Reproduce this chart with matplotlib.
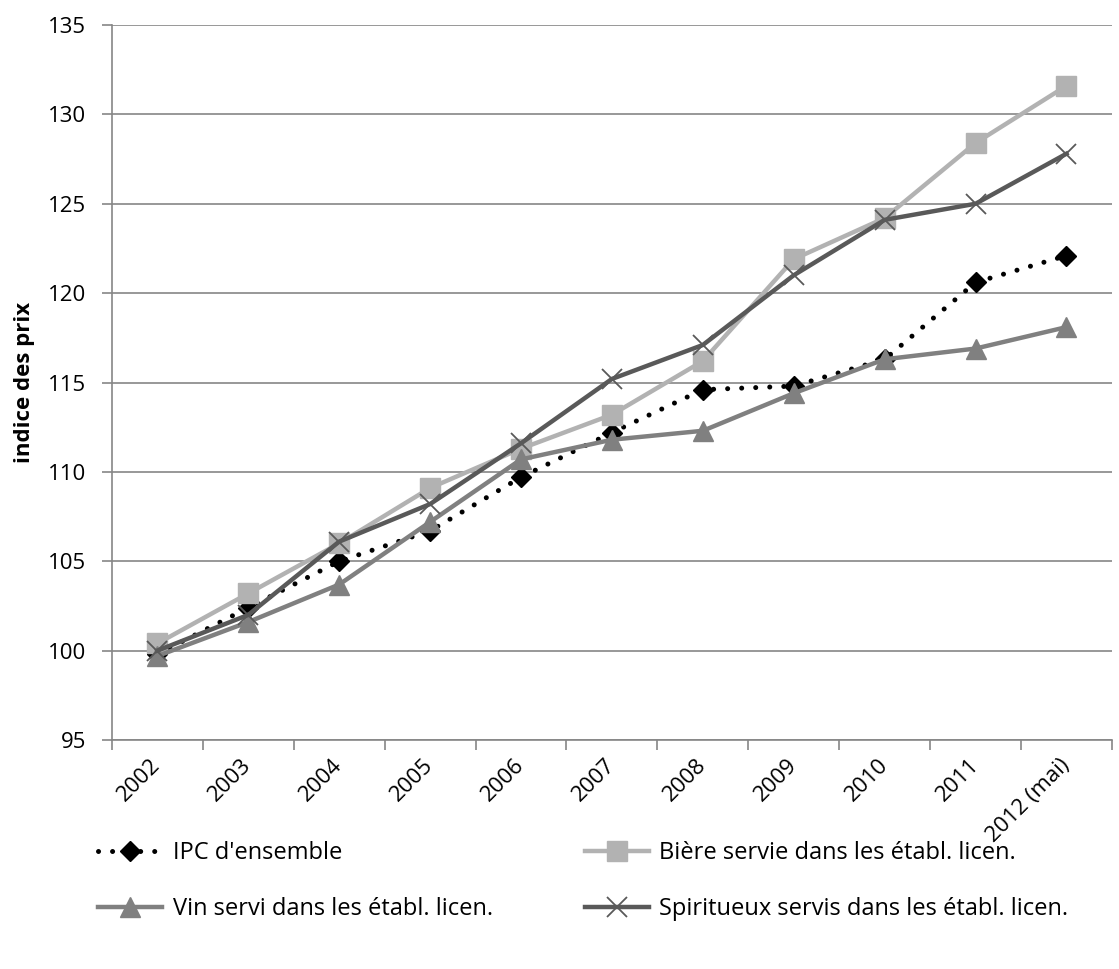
import numpy as np
import matplotlib
matplotlib.use("Agg")
import matplotlib.pyplot as plt
from matplotlib.ticker import FixedLocator
from matplotlib.transforms import ScaledTranslation

plt.rcParams['font.family'] = ['Open Sans', 'DejaVu Sans']

# data
years = ["2002", "2003", "2004", "2005", "2006", "2007", "2008", "2009", "2010", "2011", "2012 (mai)"]
ipc = [99.8, 102.4, 105.0, 106.7, 109.7, 112.2, 114.6, 114.8, 116.3, 120.6, 122.1]
biere = [100.4, 103.2, 106.0, 109.1, 111.3, 113.2, 116.2, 121.9, 124.2, 128.4, 131.6]
vin = [99.7, 101.6, 103.7, 107.2, 110.7, 111.8, 112.3, 114.4, 116.3, 116.9, 118.1]
spiritueux = [100.0, 102.0, 106.1, 108.2, 111.6, 115.2, 117.1, 121.0, 124.1, 125.0, 127.8]

labels = ["IPC d'ensemble", "Bière servie dans les établ. licen.",
          "Vin servi dans les établ. licen.", "Spiritueux servis dans les établ. licen."]

grid_col = "#868686"

fig = plt.figure(figsize=(11.19, 9.69), dpi=100)
ax = fig.add_axes([0.1, 0.2363, 0.8937, 0.7379])

x = np.arange(len(years))

l_ipc, = ax.plot(x, ipc, color="black", lw=3.6, linestyle=(0, (0.01, 2.8)),
                 dash_capstyle="round", marker="D", markersize=10.5,
                 markeredgecolor="black", markerfacecolor="black", zorder=3)
l_biere, = ax.plot(x, biere, color="#b2b2b2", lw=3.2, marker="s", markersize=14,
                   markeredgecolor="#b2b2b2", markerfacecolor="#b2b2b2", zorder=4)
l_vin, = ax.plot(x, vin, color="#808080", lw=3.2, marker="^", markersize=14,
                 markeredgecolor="#808080", markerfacecolor="#808080", zorder=5)
l_spi, = ax.plot(x, spiritueux, color="#595959", lw=3.2, marker="x", markersize=14,
                 markeredgewidth=1.3, markeredgecolor="#595959", zorder=6)

ax.set_xlim(-0.5, len(years) - 0.5)
ax.set_ylim(95, 135)
ax.set_yticks(np.arange(95, 136, 5))
ax.yaxis.grid(True, color=grid_col, lw=1.2)
ax.set_axisbelow(True)

ax.set_xticks(x)
ax.set_xticklabels(years, rotation=45, ha="right", va="center", rotation_mode="anchor")
# small shift so the end of each label sits just right of the category centre
for lab in ax.get_xticklabels():
    lab.set_transform(lab.get_transform() + ScaledTranslation(8 / 72, -3 / 72, fig.dpi_scale_trans))
ax.xaxis.set_minor_locator(FixedLocator(np.arange(-0.5, len(years), 1.0)))
ax.tick_params(axis="x", which="major", length=0, pad=16, labelsize=16)
ax.tick_params(axis="x", which="minor", length=7, width=1.2, color=grid_col, direction="out")
ax.tick_params(axis="y", length=7, width=1.2, color=grid_col, labelsize=16, pad=11.5)

for s in ["top", "right"]:
    ax.spines[s].set_visible(False)
for s in ["left", "bottom"]:
    ax.spines[s].set_color(grid_col)
    ax.spines[s].set_linewidth(1.2)

ax.set_ylabel("indice des prix", fontsize=16, fontweight="bold", labelpad=9)

fig.legend([l_ipc, l_vin, l_biere, l_spi], [labels[0], labels[2], labels[1], labels[3]],
           ncol=2, loc="upper left", bbox_to_anchor=(0.0795, 0.1415), frameon=False,
           fontsize=17, handlelength=2.7, handletextpad=0.45, columnspacing=3.9,
           labelspacing=1.35, borderaxespad=0)

fig.savefig("out.png", dpi=100)
